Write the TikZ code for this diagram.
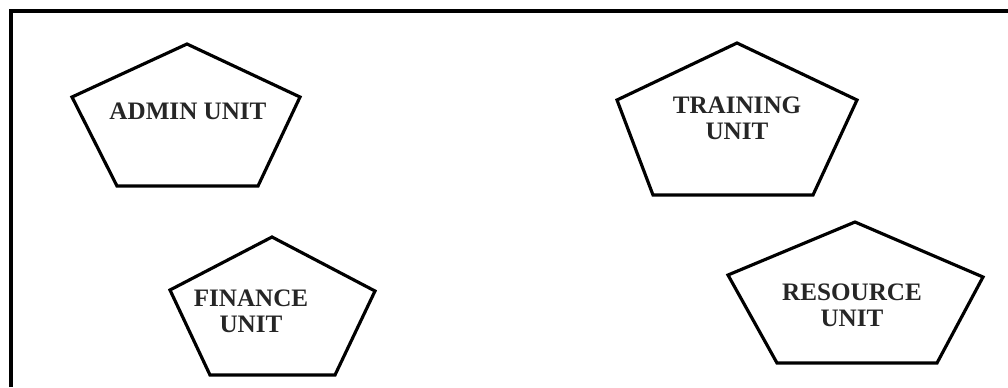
\documentclass[tikz,border=0pt]{standalone}
\usepackage{fontspec}
\setmainfont{Liberation Serif}
\usepackage{tikz}

\begin{document}
\begin{tikzpicture}[
    x=0.02cm, y=-0.02cm,
    frame/.style={line width=2.2pt},
    unitshape/.style={draw, line width=1.8pt, line join=miter},
    label/.style={align=center, font=\fontsize{14.3}{15}\selectfont\bfseries, text=black!85, inner sep=0pt}
]
    \useasboundingbox (0,0) rectangle (1008,387);
    % outer frame (only top and left edges show)
    \draw[frame] (11,387) -- (11,11) -- (1008,11);

    % admin unit
    \draw[unitshape] (187,44) -- (300,97) -- (258,186) -- (117,186) -- (72,97) -- cycle;
    \node[label] (admin) at (188,111) {ADMIN UNIT};

    % training unit
    \draw[unitshape] (737,43) -- (857,100) -- (813,195) -- (653,195) -- (617,100) -- cycle;
    \node[label] (training) at (737,118) {TRAINING\\UNIT};

    % finance unit
    \draw[unitshape] (272,237) -- (375,291) -- (335,375) -- (210,375) -- (170,290) -- cycle;
    \node[label] (finance) at (251,311) {FINANCE\\UNIT};

    % resource unit
    \draw[unitshape] (855,222) -- (983,277) -- (937,363) -- (777,363) -- (728,275) -- cycle;
    \node[label] (resource) at (852,305) {RESOURCE\\UNIT};
\end{tikzpicture}
\end{document}
